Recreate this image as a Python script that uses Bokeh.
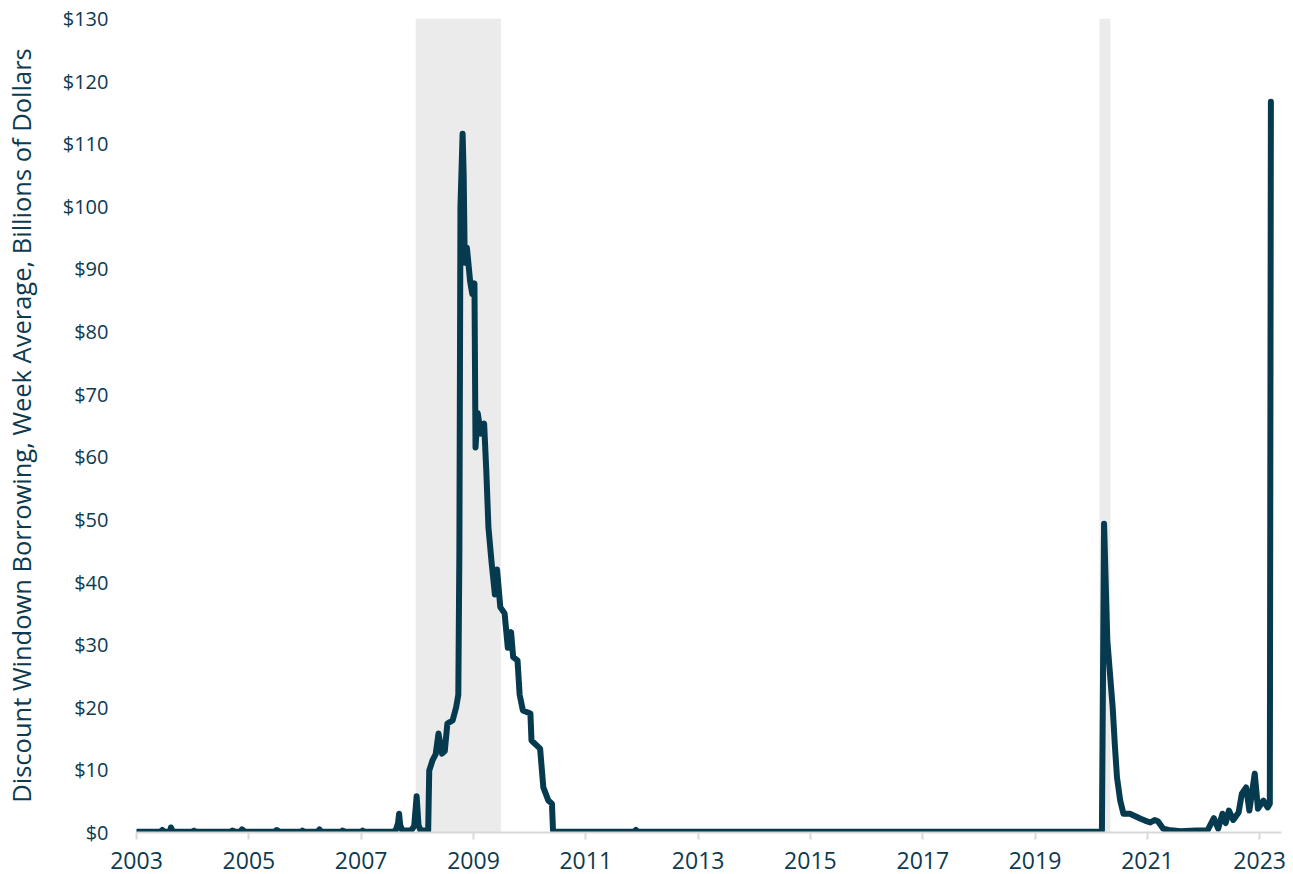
import pandas as pd
from bokeh.plotting import figure
from bokeh.models import FixedTicker, NumeralTickFormatter, DatetimeTickFormatter, Range1d, BoxAnnotation
from bokeh.embed import file_html
from bokeh.resources import INLINE

# ---- data ----
dates = [
    "2003-01-01", "2003-06-04", "2003-06-18", "2003-07-02", "2003-08-06", "2003-08-13", "2003-08-27",
    "2003-12-24", "2004-01-10", "2004-01-28", "2004-09-01", "2004-09-15", "2004-10-06", "2004-11-03",
    "2004-11-17", "2004-12-08", "2005-06-15", "2005-07-01", "2005-07-20", "2005-12-07", "2005-12-15",
    "2005-12-28", "2006-03-22", "2006-04-05", "2006-04-19", "2006-08-23", "2006-09-01", "2006-09-20",
    "2007-01-03", "2007-01-10", "2007-01-24", "2007-07-25", "2007-08-15", "2007-08-29", "2007-09-05",
    "2007-09-12", "2007-09-26", "2007-11-21", "2007-12-12", "2007-12-28", "2008-01-09", "2008-01-23",
    "2008-03-12", "2008-03-19", "2008-04-09", "2008-04-30", "2008-05-18", "2008-06-10", "2008-06-28",
    "2008-07-15", "2008-08-18", "2008-09-10", "2008-09-24", "2008-10-01", "2008-10-08", "2008-10-22",
    "2008-10-29", "2008-11-05", "2008-11-19", "2008-12-10", "2008-12-24", "2009-01-07", "2009-01-14",
    "2009-01-28", "2009-02-18", "2009-03-11", "2009-03-25", "2009-04-08", "2009-04-29", "2009-05-20",
    "2009-06-03", "2009-06-24", "2009-07-22", "2009-08-12", "2009-09-02", "2009-09-16", "2009-10-14",
    "2009-10-28", "2009-11-18", "2010-01-06", "2010-01-13", "2010-03-10", "2010-03-31", "2010-05-03",
    "2010-05-26", "2010-06-02", "2010-06-16", "2011-11-09", "2011-11-23", "2011-12-07", "2020-03-04",
    "2020-03-11", "2020-03-25", "2020-04-15", "2020-05-20", "2020-06-03", "2020-06-17", "2020-07-08",
    "2020-07-29", "2020-09-09", "2020-10-14", "2020-11-18", "2020-12-16", "2021-01-20", "2021-02-17",
    "2021-03-10", "2021-04-14", "2021-05-19", "2021-08-04", "2021-11-10", "2022-01-26", "2022-03-09",
    "2022-04-06", "2022-05-04", "2022-05-25", "2022-06-15", "2022-07-13", "2022-08-17", "2022-09-07",
    "2022-10-05", "2022-10-26", "2022-11-30", "2022-12-21", "2023-01-25", "2023-02-22", "2023-03-08",
    "2023-03-15",
]
borrowing = [
    0.1, 0.1, 0.4, 0.1, 0.1, 0.8, 0.1,
    0.1, 0.3, 0.1, 0.1, 0.3, 0.1, 0.1,
    0.5, 0.1, 0.1, 0.4, 0.1, 0.1, 0.3,
    0.1, 0.1, 0.5, 0.1, 0.1, 0.3, 0.1,
    0.1, 0.3, 0.1, 0.1, 0.4, 1.5, 3.0,
    1.2, 0.3, 0.3, 1.0, 5.8, 1.2, 0.3,
    0.3, 9.9, 11.5, 12.5, 15.8, 12.6, 13.0,
    17.4, 17.9, 20.0, 22.0, 45.0, 100.0, 111.6,
    105.0, 91.0, 93.4, 88.0, 86.0, 87.7, 61.5,
    67.0, 63.7, 65.3, 57.8, 48.7, 43.0, 38.0,
    42.0, 36.0, 35.0, 29.5, 32.0, 28.0, 27.5,
    22.0, 19.5, 19.0, 14.7, 13.4, 7.2, 5.1,
    4.6, 0.3, 0.1, 0.1, 0.4, 0.1, 0.1,
    0.3, 49.3, 30.7, 20.0, 14.0, 8.8, 5.1,
    3.0, 3.0, 2.6, 2.2, 1.9, 1.6, 2.0,
    1.8, 0.6, 0.4, 0.2, 0.3, 0.3, 2.3,
    0.6, 3.0, 1.5, 3.5, 2.0, 3.2, 6.2,
    7.2, 3.5, 9.4, 3.8, 5.1, 4.0, 4.6,
    116.7,
]
recession_starts = ["2007-12-22", "2020-02-24"]
recession_ends = ["2009-06-28", "2020-05-05"]
x_tick_years = list(range(2003, 2024, 2))
y_ticks = list(range(0, 131, 10))

INK = "#063a4e"
TEXT = "#0d3a4f"
FONT = "Open Sans"

x = pd.to_datetime(dates)

p = figure(width=1293, height=874, x_axis_type="datetime",
           output_backend="svg", toolbar_location=None,
           min_border_left=129, min_border_right=12, min_border_top=18, min_border_bottom=42)
p.x_range = Range1d(pd.Timestamp("2003-01-01"), pd.Timestamp("2023-05-23"))
p.y_range = Range1d(0, 130)
p.outline_line_color = None
p.xgrid.visible = False
p.ygrid.visible = False
p.background_fill_color = "white"
p.border_fill_color = "white"

for s, e in zip(recession_starts, recession_ends):
    p.add_layout(BoxAnnotation(left=pd.Timestamp(s), right=pd.Timestamp(e),
                               fill_color="#ebebeb", fill_alpha=1.0, line_color=None, level="underlay"))

p.line(x, borrowing, line_color=INK, line_width=6, line_join="round", line_cap="round")

xt = [pd.Timestamp(f"{y}-01-01").value / 1e6 for y in x_tick_years]
p.xaxis.ticker = FixedTicker(ticks=xt, minor_ticks=[])
p.xaxis.formatter = DatetimeTickFormatter(years="%Y", months="%Y", days="%Y", hours="%Y",
                                          hourmin="%Y", minutes="%Y", minsec="%Y", seconds="%Y",
                                          milliseconds="%Y", microseconds="%Y")
p.xaxis.axis_line_color = "#d9d9d9"
p.xaxis.axis_line_width = 2
p.xaxis.major_tick_line_color = "#d9d9d9"
p.xaxis.major_tick_line_width = 2
p.xaxis.major_tick_out = 7
p.xaxis.major_tick_in = 0
p.xaxis.minor_tick_line_color = None
p.xaxis.major_label_text_font = FONT
p.xaxis.major_label_text_font_size = "23px"
p.xaxis.major_label_text_color = TEXT
p.xaxis.major_label_standoff = 12

p.yaxis.ticker = FixedTicker(ticks=y_ticks, minor_ticks=[])
p.yaxis.formatter = NumeralTickFormatter(format="$0")
p.yaxis.axis_line_color = None
p.yaxis.major_tick_line_color = None
p.yaxis.minor_tick_line_color = None
p.yaxis.major_label_text_font = FONT
p.yaxis.major_label_text_font_size = "20px"
p.yaxis.major_label_text_color = TEXT
p.yaxis.major_label_standoff = 22
p.yaxis.axis_label = "Discount Windown Borrowing, Week Average, Billions of Dollars"
p.yaxis.axis_label_text_font = FONT
p.yaxis.axis_label_text_font_style = "normal"
p.yaxis.axis_label_text_font_size = "25.5px"
p.yaxis.axis_label_text_color = TEXT
p.yaxis.axis_label_standoff = 22

open("out.html", "w").write(file_html(p, INLINE))
